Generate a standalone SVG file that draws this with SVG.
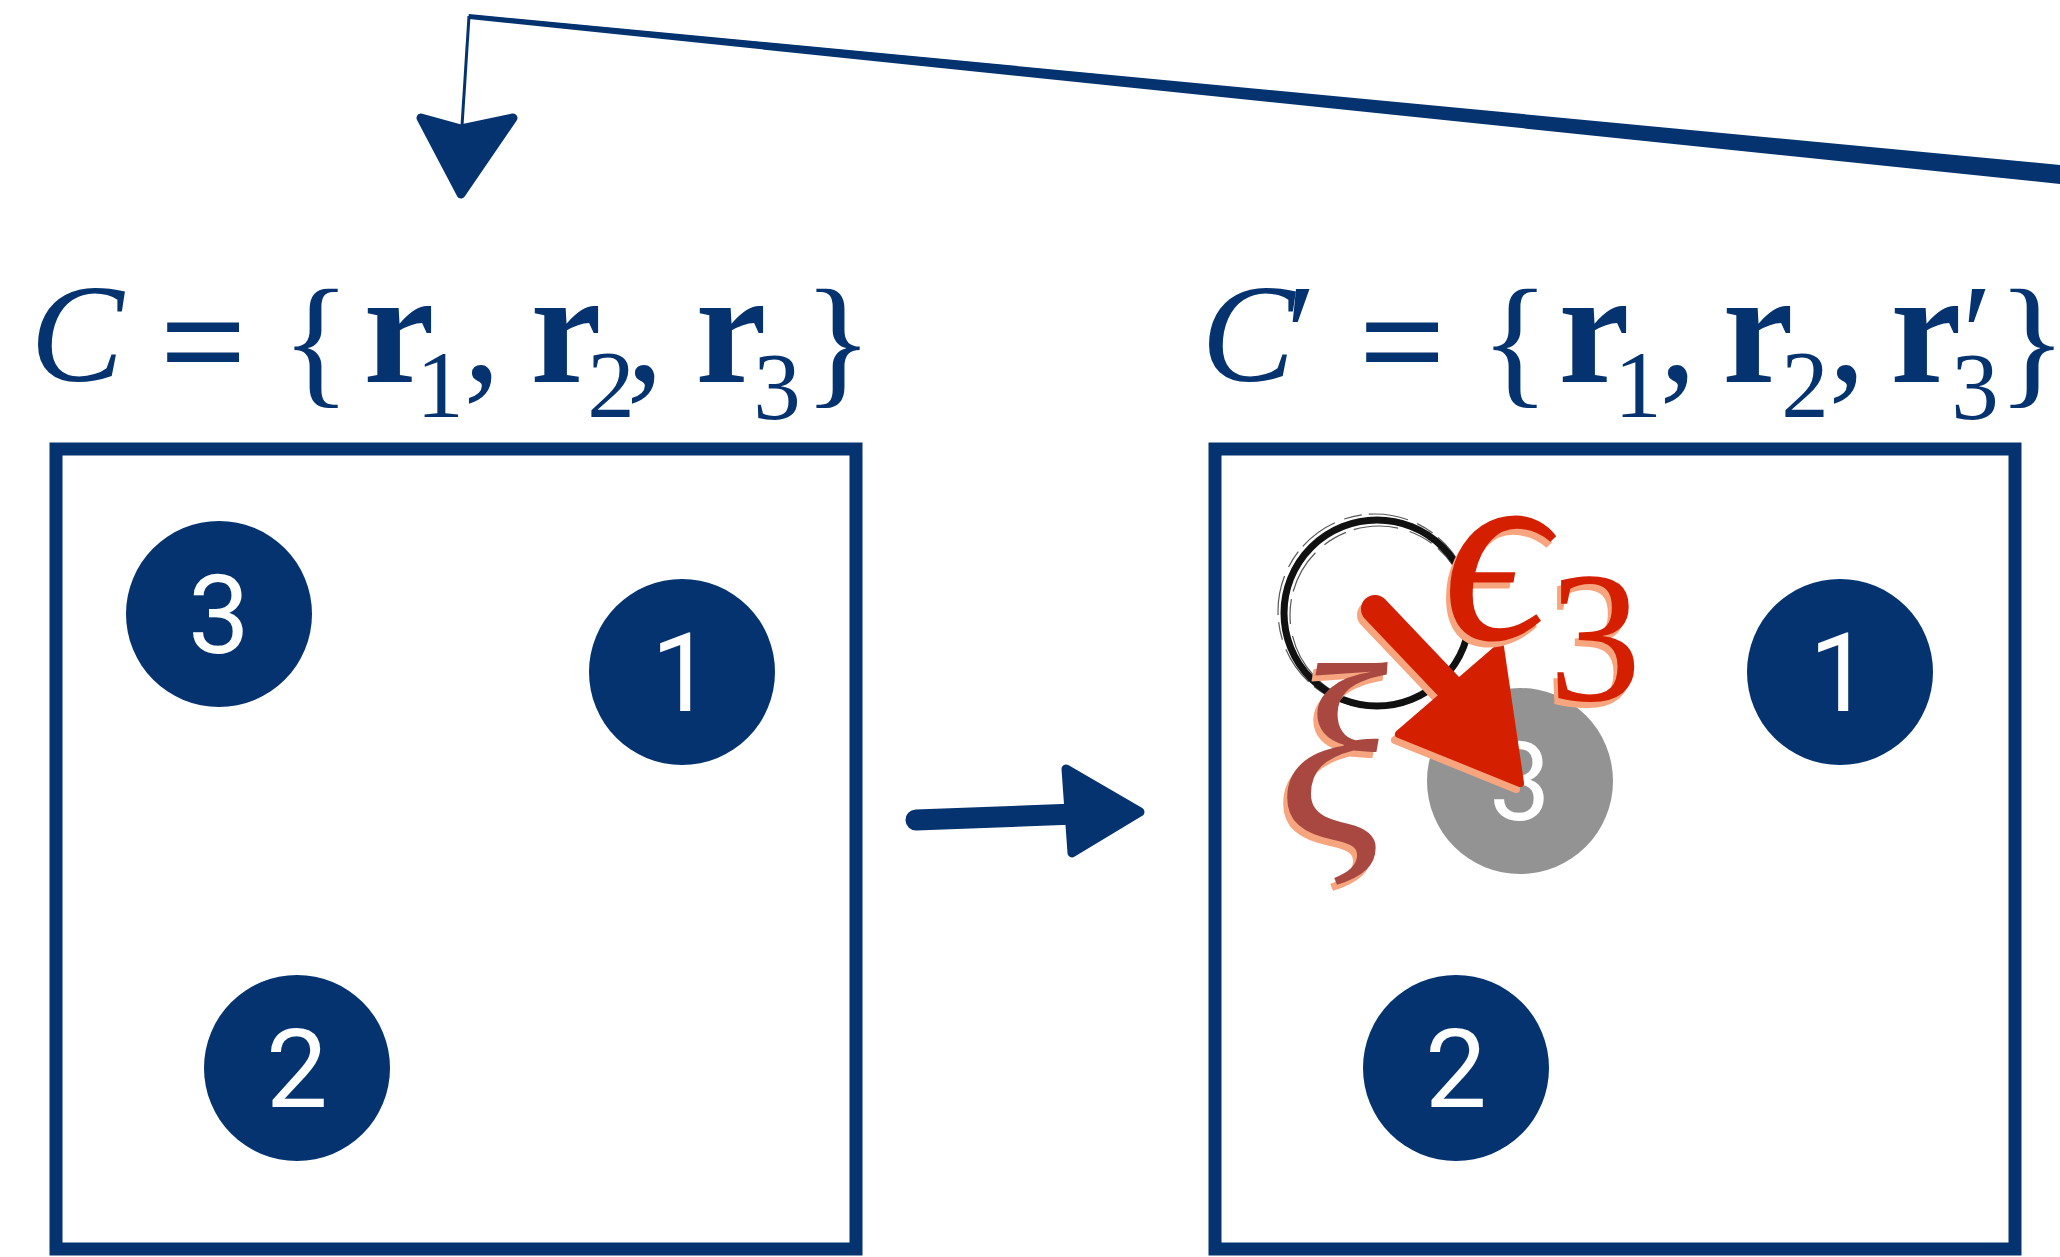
<svg xmlns="http://www.w3.org/2000/svg" width="2060" height="1257" viewBox="0 0 2060 1257">
<defs>
<style>
.navy{fill:#04336F}
.box{fill:none;stroke:#04336F;stroke-width:13}
.num{fill:#fff;text-anchor:middle}
.m{fill:#04336F;text-anchor:middle}
.red{text-anchor:middle}
</style>
</defs>
<rect width="2060" height="1257" fill="#fff"/>

<g id="formula-left">
<text class="m" font-family="Liberation Serif" font-size="140" font-style="italic" x="77" y="381">C</text>
<text class="m" font-family="Liberation Serif" font-size="150" stroke="#04336F" stroke-width="2" x="203" y="392">=</text>
<text class="m" font-family="Liberation Serif" font-size="145" x="316" y="389">{</text>
<text class="m" font-family="Liberation Serif" font-size="160" font-weight="bold" x="399" y="382">r</text>
<text class="m" font-family="Liberation Serif" font-size="95" x="440" y="417">1</text>
<text class="m" font-family="Liberation Serif" font-size="150" x="482" y="381">,</text>
<text class="m" font-family="Liberation Serif" font-size="160" font-weight="bold" x="566" y="382">r</text>
<text class="m" font-family="Liberation Serif" font-size="95" x="611" y="417">2</text>
<text class="m" font-family="Liberation Serif" font-size="150" x="645" y="381">,</text>
<text class="m" font-family="Liberation Serif" font-size="160" font-weight="bold" x="731" y="382">r</text>
<text class="m" font-family="Liberation Serif" font-size="95" x="777" y="419">3</text>
<text class="m" font-family="Liberation Serif" font-size="145" x="838" y="389">}</text>
</g>

<g id="formula-right">
<text class="m" font-family="Liberation Serif" font-size="140" font-style="italic" x="1248" y="381">C</text>
<text class="m" font-family="Liberation Serif" font-size="140" x="1301" y="381">′</text>
<text class="m" font-family="Liberation Serif" font-size="150" stroke="#04336F" stroke-width="2" x="1402" y="392">=</text>
<text class="m" font-family="Liberation Serif" font-size="145" x="1515" y="389">{</text>
<text class="m" font-family="Liberation Serif" font-size="160" font-weight="bold" x="1594" y="382">r</text>
<text class="m" font-family="Liberation Serif" font-size="95" x="1638" y="417">1</text>
<text class="m" font-family="Liberation Serif" font-size="150" x="1678" y="381">,</text>
<text class="m" font-family="Liberation Serif" font-size="160" font-weight="bold" x="1758" y="382">r</text>
<text class="m" font-family="Liberation Serif" font-size="95" x="1805" y="417">2</text>
<text class="m" font-family="Liberation Serif" font-size="150" x="1847" y="381">,</text>
<text class="m" font-family="Liberation Serif" font-size="160" font-weight="bold" x="1926" y="382">r</text>
<text class="m" font-family="Liberation Serif" font-size="140" x="1977" y="381">′</text>
<text class="m" font-family="Liberation Serif" font-size="95" x="1975" y="419">3</text>
<text class="m" font-family="Liberation Serif" font-size="145" x="2032" y="389">}</text>
</g>

<g id="box-left">
<rect class="box" x="56" y="449" width="800" height="800"/>
</g>
<g id="box-right">
<rect class="box" x="1215" y="449" width="800" height="800"/>
</g>

<g id="left-p3"><circle class="navy" cx="219" cy="614" r="93"/><text class="num" font-family="Roboto" font-size="110" x="219" y="653">3</text></g>
<g id="left-p1"><circle class="navy" cx="682" cy="672" r="93"/><text class="num" font-family="Roboto" font-size="110" x="682" y="711">1</text></g>
<g id="left-p2"><circle class="navy" cx="297" cy="1068" r="93"/><text class="num" font-family="Roboto" font-size="110" x="297" y="1107">2</text></g>
<g id="right-p1"><circle class="navy" cx="1840" cy="672" r="93"/><text class="num" font-family="Roboto" font-size="110" x="1840" y="711">1</text></g>
<g id="right-p2"><circle class="navy" cx="1456" cy="1068" r="93"/><text class="num" font-family="Roboto" font-size="110" x="1456" y="1107">2</text></g>

<g id="old-position" fill="none" stroke="#111">
<circle cx="1377" cy="613" r="93" stroke-width="7"/>
<circle cx="1375" cy="611" r="97" stroke-width="1.2" stroke-dasharray="40 10 18 7" opacity="0.7"/>
<circle cx="1379" cy="615" r="89" stroke-width="1.2" stroke-dasharray="25 8 45 12" opacity="0.7"/>
</g>

<g id="right-p3"><circle cx="1520" cy="781" r="93" fill="#939393"/><text class="num" font-family="Roboto" font-size="110" x="1520" y="820">3</text></g>

<g id="connectors">
<polygon class="navy" points="469,14 2060,165 2060,184 469,19"/>
<path d="M470,17 L1300,96 M468,15 L1100,75" stroke="#04336F" stroke-width="1.2" fill="none" opacity="0.6"/>
<path d="M469,16 L462,126" stroke="#04336F" stroke-width="3" fill="none"/>
<polygon class="navy" points="421,118 461,129 513,118 461,194" stroke="#04336F" stroke-width="9" stroke-linejoin="round"/>
<path d="M916,820 L1075,814" stroke="#04336F" stroke-width="21" stroke-linecap="round" fill="none"/>
<polygon class="navy" points="1066,769 1140,812 1072,853" stroke="#04336F" stroke-width="9" stroke-linejoin="round"/>
</g>

<g id="displacement-arrow">
<g transform="translate(-4,6)" fill="#F7A57F" stroke="#F7A57F">
<path d="M1375,609 L1452,690" stroke-width="28" stroke-linecap="round" fill="none"/>
<polygon points="1399,734 1500,647 1520,783" stroke-width="8" stroke-linejoin="round"/>
</g>
<path d="M1375,609 L1452,690" stroke="#D42000" stroke-width="28" stroke-linecap="round" fill="none"/>
<polygon points="1399,734 1500,647 1520,783" fill="#D42000" stroke="#D42000" stroke-width="8" stroke-linejoin="round"/>
</g>

<g id="xi-label">
<text class="red" font-family="Liberation Serif" font-style="italic" x="1329" y="846" font-size="255" fill="#F7A57F">ξ</text>
<text class="red" font-family="Liberation Serif" font-style="italic" x="1333" y="840" font-size="255" fill="#A84840">ξ</text>
</g>

<g id="epsilon-label">
<text class="red" font-family="Liberation Serif" font-style="italic" x="1491" y="645" font-size="262" fill="#F7A57F">ϵ</text>
<text class="red" font-family="Liberation Serif" font-style="italic" x="1495" y="639" font-size="262" fill="#D42000">ϵ</text>
<text class="red" font-family="Liberation Serif" x="1591" y="706" font-size="186" fill="#F7A57F">3</text>
<text class="red" font-family="Liberation Serif" x="1595" y="700" font-size="186" fill="#D42000">3</text>
</g>
</svg>
